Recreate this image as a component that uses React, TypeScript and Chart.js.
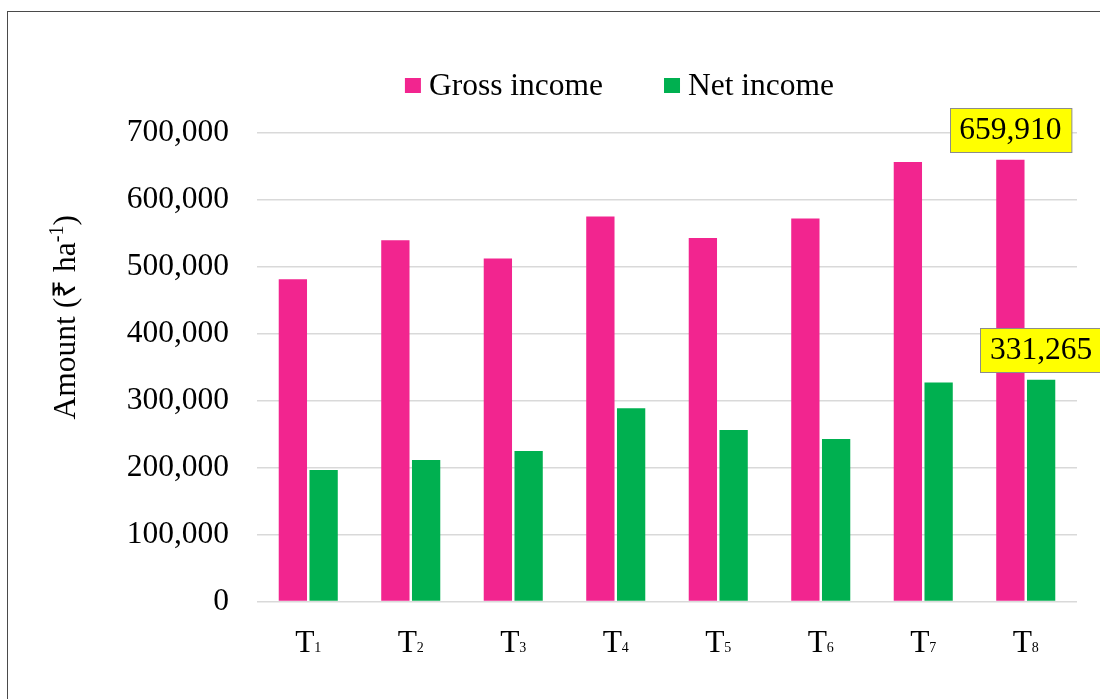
import React, { useEffect, useRef } from "react";
import { Chart, registerables } from "chart.js";

Chart.register(...registerables);

// ---------- data ----------
const treatmentLetter = "T";
const treatmentSubs = ["1", "2", "3", "4", "5", "6", "7", "8"];
const categories = treatmentSubs.map((s) => treatmentLetter + s);
const seriesNames = ["Gross income", "Net income"];
const grossIncome = [481600, 539900, 512400, 575200, 543000, 572200, 656500, 659910];
const netIncome = [196600, 211500, 225000, 288800, 256400, 242900, 327100, 331265];
const yTickValues = [0, 100000, 200000, 300000, 400000, 500000, 600000, 700000];
const yAxisTitleMain = "Amount (₹ ha";
const yAxisTitleSup = "-1";
const yAxisTitleEnd = ")";
const labeledIndex = 7;

// ---------- styles ----------
const FONT = "'Liberation Serif', 'Times New Roman', serif";
const FS = 31.5;
const colors = ["#f2258f", "#00b050"];

const overlayPlugin = {
  id: "overlay",
  afterDraw(chart: any) {
    const ctx: CanvasRenderingContext2D = chart.ctx;
    const area = chart.chartArea;
    ctx.save();
    ctx.fillStyle = "#000";

    // x labels with subscripts
    const xs = chart.scales.x;
    const baseY = area.bottom + 50;
    treatmentSubs.forEach((sub, i) => {
      const cx = xs.getPixelForValue(i);
      ctx.font = `${FS}px ${FONT}`;
      const wT = ctx.measureText(treatmentLetter).width;
      ctx.font = `14px ${FONT}`;
      const wS = ctx.measureText(sub).width;
      const start = cx - (wT + wS) / 2;
      ctx.textAlign = "left";
      ctx.textBaseline = "alphabetic";
      ctx.font = `${FS}px ${FONT}`;
      ctx.fillText(treatmentLetter, start, baseY);
      ctx.font = `14px ${FONT}`;
      ctx.fillText(sub, start + wT, baseY);
    });

    // y axis title (rotated)
    ctx.save();
    ctx.translate(75, (area.top + area.bottom) / 2 - 50);
    ctx.rotate(-Math.PI / 2);
    ctx.textAlign = "left";
    ctx.textBaseline = "alphabetic";
    ctx.font = `${FS}px ${FONT}`;
    const w1 = ctx.measureText(yAxisTitleMain).width;
    const w3 = ctx.measureText(yAxisTitleEnd).width;
    ctx.font = `20px ${FONT}`;
    const w2 = ctx.measureText(yAxisTitleSup).width;
    let x0 = -(w1 + w2 + w3) / 2;
    ctx.font = `${FS}px ${FONT}`;
    ctx.fillText(yAxisTitleMain, x0, 0);
    ctx.font = `20px ${FONT}`;
    ctx.fillText(yAxisTitleSup, x0 + w1, -12);
    ctx.font = `${FS}px ${FONT}`;
    ctx.fillText(yAxisTitleEnd, x0 + w1 + w2, 0);
    ctx.restore();

    // legend
    ctx.font = `${FS}px ${FONT}`;
    const boxW = 16, boxH = 15, gapText = 8, gapItem = 61;
    const items = chart.data.datasets.map((ds: any) => ({
      text: ds.label,
      color: ds.backgroundColor,
      w: boxW + gapText + ctx.measureText(ds.label).width,
    }));
    const total = items.reduce((a: number, it: any) => a + it.w, 0) + gapItem * (items.length - 1);
    let lx = 619.5 - total / 2;
    const legendMid = 85.5;
    items.forEach((it: any) => {
      ctx.fillStyle = it.color;
      ctx.fillRect(lx, legendMid - boxH / 2, boxW, boxH);
      ctx.fillStyle = "#000";
      ctx.textAlign = "left";
      ctx.textBaseline = "alphabetic";
      ctx.fillText(it.text, lx + boxW + gapText, 95);
      lx += it.w + gapItem;
    });

    // data labels for the last treatment
    chart.data.datasets.forEach((ds: any, d: number) => {
      const el = chart.getDatasetMeta(d).data[labeledIndex];
      if (!el) return;
      const txt = Number(ds.data[labeledIndex]).toLocaleString("en-US");
      ctx.font = `${FS}px ${FONT}`;
      const tw = ctx.measureText(txt).width;
      const bw = tw + 19;
      const bh = 44;
      const cx = el.x;
      const cy = el.y - 30;
      const bx = Math.round(cx - bw / 2) + 0.5;
      const by = Math.round(cy - bh / 2) + 0.5;
      ctx.fillStyle = "#ffff00";
      ctx.fillRect(bx, by, bw, bh);
      ctx.strokeStyle = "#8c8c8c";
      ctx.lineWidth = 1;
      ctx.strokeRect(bx, by, bw, bh);
      ctx.fillStyle = "#000";
      ctx.textAlign = "center";
      ctx.textBaseline = "middle";
      ctx.fillText(txt, cx, cy + 1);
    });

    ctx.restore();
  },
};

export default function App() {
  const ref = useRef<HTMLCanvasElement | null>(null);

  useEffect(() => {
    if (!ref.current) return;
    const chart = new Chart(ref.current, {
      type: "bar",
      data: {
        labels: categories,
        datasets: [
          {
            label: seriesNames[0],
            data: grossIncome,
            backgroundColor: colors[0],
            borderWidth: 0,
            categoryPercentage: 0.6,
            barPercentage: 0.92,
          },
          {
            label: seriesNames[1],
            data: netIncome,
            backgroundColor: colors[1],
            borderWidth: 0,
            categoryPercentage: 0.6,
            barPercentage: 0.92,
          },
        ],
      },
      options: {
        animation: false,
        responsive: false,
        devicePixelRatio: 1,
        layout: { padding: { left: 0, right: 23, top: 133, bottom: 0 } },
        plugins: {
          legend: { display: false },
          tooltip: { enabled: false },
          title: { display: false },
        },
        scales: {
          x: {
            grid: { display: false, drawTicks: false },
            border: { display: false },
            ticks: { display: false },
            afterFit: (s: any) => {
              s.height = 97.5;
            },
          },
          y: {
            min: 0,
            max: 700000,
            afterBuildTicks: (s: any) => {
              s.ticks = yTickValues.map((v) => ({ value: v }));
            },
            ticks: {
              padding: 28,
              color: "#000",
              font: { family: FONT, size: FS },
              callback: (v: any) => Number(v).toLocaleString("en-US"),
            },
            grid: { color: "#d9d9d9", lineWidth: 1.5, drawTicks: false },
            border: { display: false },
            afterFit: (s: any) => {
              s.width = 257;
            },
          },
        },
      },
      plugins: [overlayPlugin],
    });
    return () => chart.destroy();
  }, []);

  return (
    <div
      style={{
        position: "fixed",
        left: 0,
        top: 0,
        width: 1100,
        height: 699,
        overflow: "hidden",
        background: "#fff",
      }}
    >
      <div
        style={{
          position: "absolute",
          left: 7,
          top: 11,
          width: 1200,
          height: 800,
          border: "1px solid #4a4a4a",
          boxSizing: "border-box",
        }}
      />
      <canvas
        ref={ref}
        width={1100}
        height={699}
        style={{ position: "absolute", left: 0, top: 0, width: 1100, height: 699 }}
      />
    </div>
  );
}
